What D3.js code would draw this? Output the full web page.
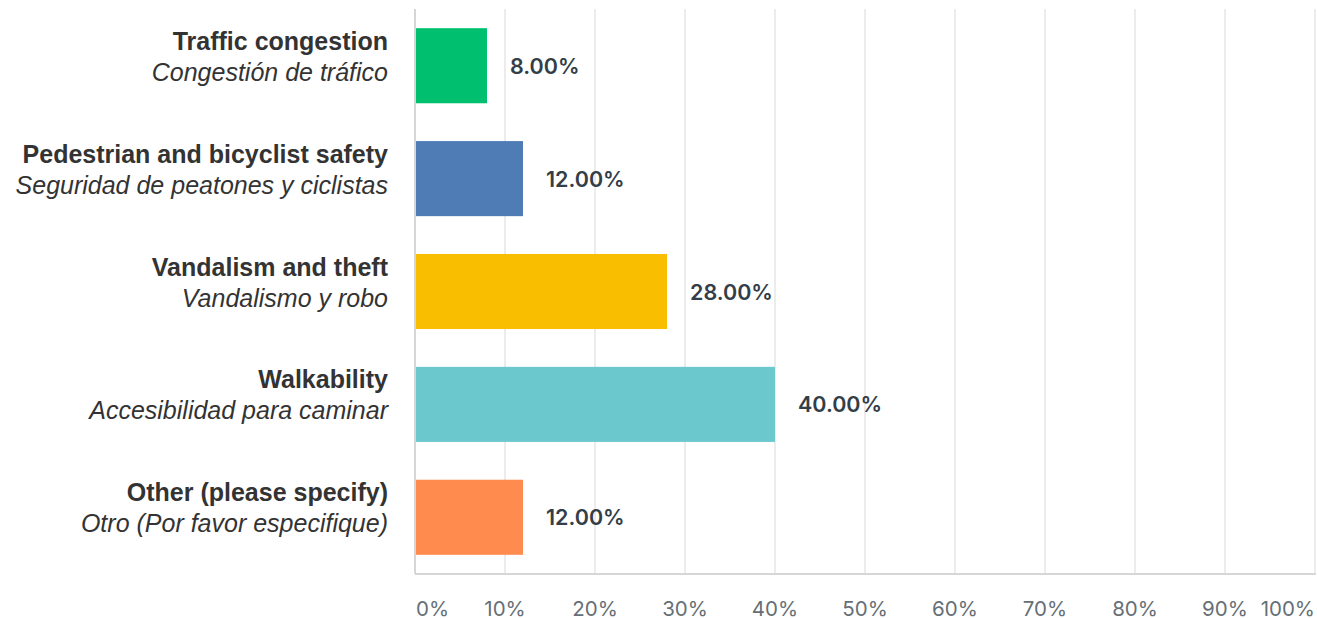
<!DOCTYPE html>
<html>
  <head>
    <style type="text/css">
        body { margin: 0; background: #fff; }
        .grid line { stroke: #e6e6e6; stroke-width: 1.5px; }
        .cat-main { font-family: "Liberation Sans", Arial, sans-serif; font-weight: bold; font-size: 25px; fill: #333; }
        .cat-sub { font-family: "Liberation Sans", Arial, sans-serif; font-style: italic; font-size: 25px; fill: #333; }
        .value { font-family: Inter, sans-serif; font-weight: 600; font-size: 21.5px; fill: #333e48; }
        .tick-label { font-family: Inter, sans-serif; font-size: 20.5px; fill: #666f75; }
    </style>
  </head>
  <body>
    <div id="chart"></div>
    <script src="https://cdn.jsdelivr.net/npm/d3@7"></script>
    <script>
        // answer options (english + spanish) and response shares
        var categories = ["Traffic congestion", "Pedestrian and bicyclist safety", "Vandalism and theft", "Walkability", "Other (please specify)"];
        var subLabels = ["Congestión de tráfico", "Seguridad de peatones y ciclistas", "Vandalismo y robo", "Accesibilidad para caminar", "Otro (Por favor especifique)"];
        var values = [8, 12, 28, 40, 12];
        var barColors = ["#00bf6f", "#507cb6", "#f9be00", "#6bc8cd", "#ff8b4f"];
        var ticks = [0, 10, 20, 30, 40, 50, 60, 70, 80, 90, 100];

        var width = 1317, height = 618;
        var plotLeft = 415, plotRight = 1315, plotTop = 9, plotBottom = 574;

        var svg = d3.select("#chart").append("svg")
            .attr("width", width)
            .attr("height", height);

        var x = d3.scaleLinear().domain([0, 100]).range([plotLeft, plotRight]);
        var y = d3.scaleBand().domain(categories).range([plotTop, plotBottom])
            .paddingInner(0.335).paddingOuter(0.17);

        // vertical gridlines
        svg.append("g").attr("class", "grid")
            .selectAll("line")
            .data(ticks)
            .enter().append("line")
            .attr("x1", (d) => x(d)).attr("x2", (d) => x(d))
            .attr("y1", plotTop).attr("y2", plotBottom);

        // axis frame: left + bottom
        svg.append("line").attr("x1", plotLeft).attr("x2", plotLeft).attr("y1", plotTop).attr("y2", plotBottom)
            .attr("stroke", "#d6d6d6").attr("stroke-width", 2);
        svg.append("line").attr("x1", plotLeft).attr("x2", plotRight + 1).attr("y1", plotBottom).attr("y2", plotBottom)
            .attr("stroke", "#d6d6d6").attr("stroke-width", 2);

        // bars
        svg.append("g").selectAll("rect")
            .data(values)
            .enter().append("rect")
            .attr("x", x(0) + 1)
            .attr("y", (d, i) => y(categories[i]))
            .attr("width", (d) => x(d) - x(0) - 1)
            .attr("height", y.bandwidth())
            .attr("fill", (d, i) => barColors[i]);

        // value labels
        svg.append("g").selectAll("text")
            .data(values)
            .enter().append("text")
            .attr("class", "value")
            .attr("x", (d) => x(d) + 23)
            .attr("y", (d, i) => y(categories[i]) + y.bandwidth() / 2 + 8)
            .text((d) => d.toFixed(2) + "%");

        // category labels
        var cat = svg.append("g").selectAll("g")
            .data(categories)
            .enter().append("g");
        cat.append("text")
            .attr("class", "cat-main")
            .attr("text-anchor", "end")
            .attr("x", 388)
            .attr("y", (d) => y(d) + y.bandwidth() / 2 - 16)
            .text((d) => d);
        cat.append("text")
            .attr("class", "cat-sub")
            .attr("text-anchor", "end")
            .attr("x", 388)
            .attr("y", (d) => y(d) + y.bandwidth() / 2 + 15)
            .text((d, i) => subLabels[i]);

        // x tick labels: first left-aligned, last right-aligned
        svg.append("g").selectAll("text")
            .data(ticks)
            .enter().append("text")
            .attr("class", "tick-label")
            .attr("x", (d) => d === 0 ? x(d) + 1 : x(d))
            .attr("y", 616)
            .attr("text-anchor", (d) => d === 0 ? "start" : (d === 100 ? "end" : "middle"))
            .text((d) => d + "%");
    </script>
  </body>
</html>
